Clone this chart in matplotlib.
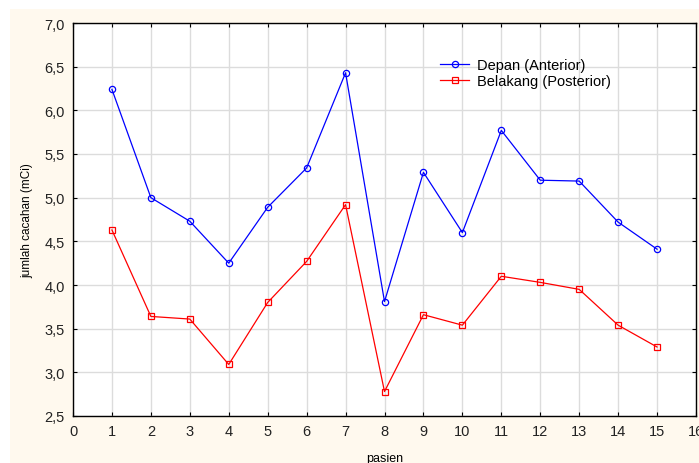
import matplotlib
matplotlib.use("Agg")
import matplotlib.pyplot as plt
from matplotlib.patches import Rectangle
from matplotlib.ticker import FuncFormatter

# jumlah cacahan per pasien (mCi)
pasien = [1, 2, 3, 4, 5, 6, 7, 8, 9, 10, 11, 12, 13, 14, 15]
depan = [6.24, 5.00, 4.73, 4.25, 4.89, 5.34, 6.43, 3.81, 5.29, 4.60, 5.77, 5.20, 5.19, 4.72, 4.41]
belakang = [4.63, 3.64, 3.61, 3.09, 3.80, 4.27, 4.92, 2.78, 3.66, 3.54, 4.10, 4.03, 3.95, 3.54, 3.29]

x_ticks = list(range(0, 17))
y_ticks = [2.5, 3.0, 3.5, 4.0, 4.5, 5.0, 5.5, 6.0, 6.5, 7.0]

plt.rcParams['font.family'] = ['Liberation Sans', 'DejaVu Sans']

fig = plt.figure(figsize=(6.99, 4.64), dpi=100)
fig.patch.set_facecolor("white")
# panel krem di belakang grafik
fig.add_artist(Rectangle((10 / 699, 0), 1, (464 - 10) / 464,
                         transform=fig.transFigure, facecolor="#fff9ee",
                         edgecolor="none", zorder=-5))

ax = fig.add_axes([73 / 699, 47 / 464, 623 / 699, 393 / 464])
ax.set_zorder(2)
ax.set_facecolor("white")

ax.plot(pasien, depan, color="#0000ff", lw=0.9, marker="o", ms=4.5,
        mfc="none", mec="#0000ff", mew=0.9, label="Depan (Anterior)")
ax.plot(pasien, belakang, color="#ff0000", lw=0.9, marker="s", ms=5,
        mfc="none", mec="#ff0000", mew=0.9, label="Belakang (Posterior)")

ax.set_xlim(0, 16)
ax.set_ylim(2.5, 7.0)
ax.set_xticks(x_ticks)
ax.set_yticks(y_ticks)
ax.yaxis.set_major_formatter(FuncFormatter(lambda v, p: f"{v:.1f}".replace(".", ",")))
ax.grid(True, color="#dcdcdc", lw=1.0)
ax.set_axisbelow(True)

ax.tick_params(direction="in", length=3, width=0.8, top=True, right=True,
               labelsize=10.5, colors="black", labelcolor="#222222", pad=6)
for s in ax.spines.values():
    s.set_color("black")
    s.set_linewidth(1.0)

ax.set_xlabel("pasien", fontsize=9, labelpad=10)
ax.set_ylabel("jumlah cacahan (mCi)", fontsize=8.5, labelpad=8)

leg = ax.legend(loc="upper left", bbox_to_anchor=(0.58, 0.925), frameon=False,
                fontsize=10.5, handlelength=2.0, handletextpad=0.5,
                labelspacing=0.15, borderaxespad=0)

fig.savefig("out.png", dpi=100)
